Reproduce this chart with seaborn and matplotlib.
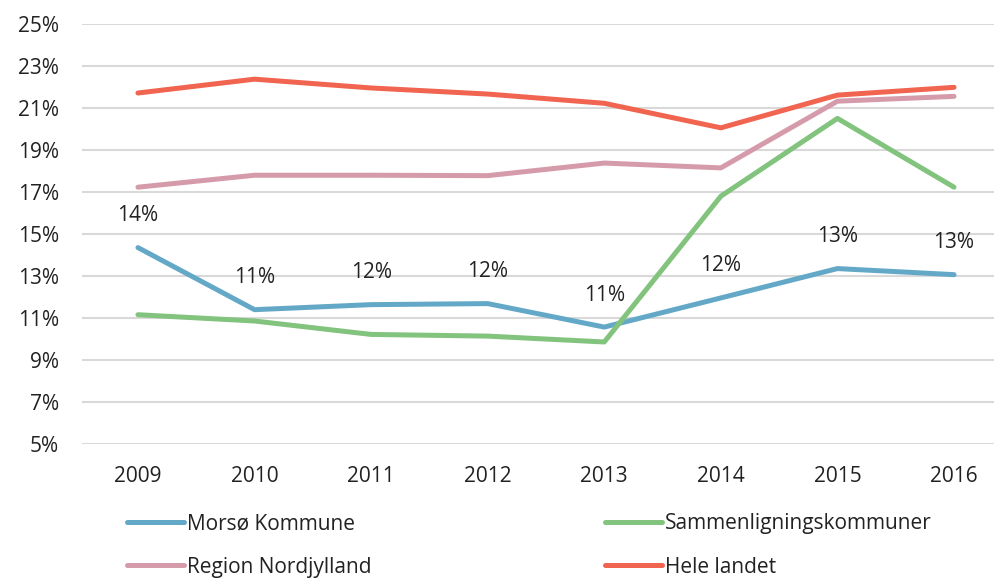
import pandas as pd
import seaborn as sns
import matplotlib.pyplot as plt

years = [2009, 2010, 2011, 2012, 2013, 2014, 2015, 2016]
morsoe = [14.34, 11.38, 11.62, 11.67, 10.55, 11.94, 13.34, 13.05]
sammenligning = [11.14, 10.84, 10.20, 10.12, 9.84, 16.79, 20.50, 17.22]
nordjylland = [17.22, 17.79, 17.79, 17.77, 18.37, 18.14, 21.32, 21.55]
hele_landet = [21.71, 22.37, 21.95, 21.66, 21.22, 20.05, 21.61, 21.98]
y_ticks = [5, 7, 9, 11, 13, 15, 17, 19, 21, 23, 25]

series = {
    "Morsø Kommune": morsoe,
    "Sammenligningskommuner": sammenligning,
    "Region Nordjylland": nordjylland,
    "Hele landet": hele_landet,
}
colors = {
    "Morsø Kommune": "#64A8C8",
    "Sammenligningskommuner": "#82C37D",
    "Region Nordjylland": "#D59BAA",
    "Hele landet": "#F06450",
}

df = pd.DataFrame([(name, y, v) for name, vals in series.items()
                   for y, v in zip(years, vals)],
                  columns=["serie", "aar", "andel"])

sns.set_theme(style="white")
plt.rcParams["font.family"] = ["Open Sans", "DejaVu Sans"]
fs = 15

fig = plt.figure(figsize=(9.94, 5.8), dpi=100)
ax = fig.add_axes([82 / 994, 1 - 443.5 / 580, 1 - 82 / 994, (443.5 - 24) / 580])

sns.lineplot(data=df, x="aar", y="andel", hue="serie",
             hue_order=list(series.keys()), palette=colors,
             linewidth=3.6, ax=ax, legend=False)
for line in ax.lines:
    line.set_solid_capstyle("round")

# value labels above Morsø line
for x, v in zip(years, morsoe):
    ax.annotate(f"{round(v)}%", (x, v), xytext=(0, 23), textcoords="offset points",
                ha="center", va="center", fontsize=fs, color="#222222")

ax.set_ylim(5, 25)
ax.set_xlim(years[0] - 0.48, years[-1] + 0.343)
ax.set_yticks(y_ticks)
ax.set_yticklabels([f"{t}%" for t in y_ticks])
ax.set_xticks(years)
ax.set_xticklabels([str(y) for y in years])
ax.yaxis.grid(True, color="#D9D9D9", linewidth=1.5)
ax.set_axisbelow(True)
for s in ax.spines.values():
    s.set_visible(False)
ax.tick_params(axis="both", length=0, labelsize=fs, colors="#222222")
ax.tick_params(axis="y", pad=16.5)
ax.tick_params(axis="x", pad=16)
ax.set_xlabel("")
ax.set_ylabel("")

order = ["Morsø Kommune", "Region Nordjylland", "Sammenligningskommuner", "Hele landet"]
handles = [plt.Line2D([], [], color=colors[n], linewidth=3.6) for n in order]
fig.legend(handles, order, loc="center left", bbox_to_anchor=(127 / 994, 1 - 545.5 / 580),
           ncol=2, frameon=False, fontsize=fs, handlelength=2.74, handletextpad=0.15,
           labelspacing=1.07, columnspacing=11.2, borderpad=0, borderaxespad=0,
           labelcolor="#222222")

fig.savefig("out.png", dpi=100)
